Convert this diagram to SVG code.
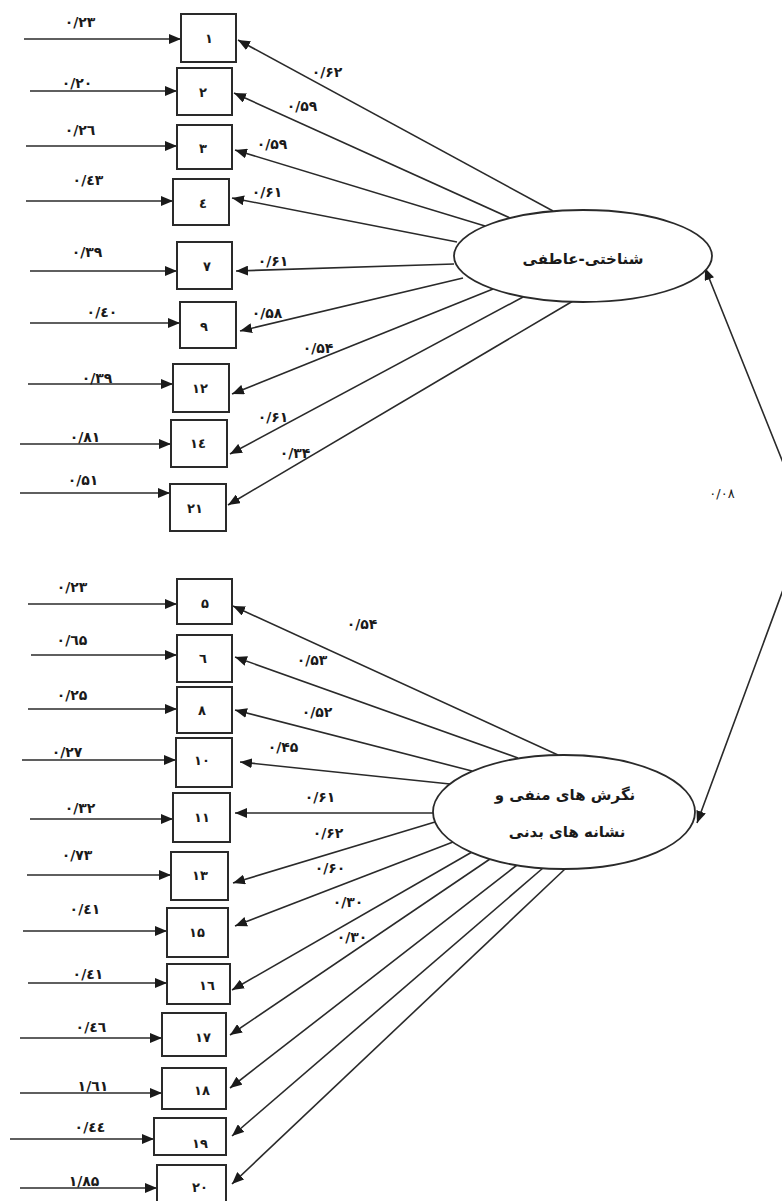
<svg xmlns="http://www.w3.org/2000/svg" width="782" height="1201" viewBox="0 0 782 1201">
<style>
.box{fill:#fff;stroke:#2a2a2a;stroke-width:2}
.lv{fill:#fff;stroke:#2a2a2a;stroke-width:1.8}
.ln{fill:none;stroke:#2a2a2a;stroke-width:1.6}
.t{font-family:"DejaVu Sans",sans-serif;font-size:14px;font-weight:bold;fill:#1a1a1a;text-anchor:middle;letter-spacing:2px}
.bt{font-family:"DejaVu Sans",sans-serif;font-size:13px;font-weight:bold;fill:#1a1a1a;text-anchor:middle}
.et{font-family:"DejaVu Sans",sans-serif;font-size:15px;font-weight:bold;fill:#1a1a1a;text-anchor:middle}
</style>
<defs>
<marker id="ah" markerUnits="userSpaceOnUse" markerWidth="12" markerHeight="10" refX="12" refY="5" orient="auto-start-reverse"><path d="M0,0 L12,5 L0,10 z" fill="#1a1a1a"/></marker>
</defs>
<rect width="782" height="1201" fill="#fff"/>
<g id="connectors">
<g class="ln" marker-end="url(#ah)">
<line x1="24" y1="39" x2="181" y2="39"/>
<line x1="30" y1="91" x2="177" y2="91"/>
<line x1="26" y1="146" x2="177" y2="146"/>
<line x1="26" y1="201" x2="173" y2="201"/>
<line x1="30" y1="271" x2="177" y2="271"/>
<line x1="30" y1="323" x2="180" y2="323"/>
<line x1="28" y1="384" x2="173" y2="384"/>
<line x1="20" y1="444" x2="171" y2="444"/>
<line x1="20" y1="493" x2="170" y2="493"/>
<line x1="28" y1="604" x2="177" y2="604"/>
<line x1="31" y1="655" x2="177" y2="655"/>
<line x1="28" y1="709" x2="177" y2="709"/>
<line x1="22" y1="760" x2="176" y2="760"/>
<line x1="30" y1="819" x2="173" y2="819"/>
<line x1="27" y1="875" x2="171" y2="875"/>
<line x1="23" y1="931" x2="167" y2="931"/>
<line x1="28" y1="983" x2="167" y2="983"/>
<line x1="20" y1="1038" x2="162" y2="1038"/>
<line x1="20" y1="1093" x2="162" y2="1093"/>
<line x1="10" y1="1139" x2="154" y2="1139"/>
<line x1="20" y1="1188" x2="157" y2="1188"/>
<line x1="553" y1="211" x2="238" y2="40"/>
<line x1="510" y1="218" x2="234" y2="93"/>
<line x1="485" y1="226" x2="235" y2="150"/>
<line x1="457" y1="242" x2="232" y2="198"/>
<line x1="454" y1="264" x2="236" y2="271"/>
<line x1="463" y1="278" x2="240" y2="331"/>
<line x1="493" y1="289" x2="232" y2="394"/>
<line x1="523" y1="297" x2="230" y2="454"/>
<line x1="573" y1="301" x2="228" y2="505"/>
<line x1="558" y1="755" x2="233" y2="606"/>
<line x1="518" y1="758" x2="235" y2="657"/>
<line x1="472" y1="771" x2="235" y2="710"/>
<line x1="450" y1="784" x2="240" y2="762"/>
<line x1="433" y1="813" x2="235" y2="813"/>
<line x1="435" y1="822" x2="233" y2="883"/>
<line x1="453" y1="842" x2="235" y2="926"/>
<line x1="472" y1="852" x2="232" y2="990"/>
<line x1="490" y1="859" x2="230" y2="1035"/>
<line x1="517" y1="865" x2="230" y2="1088"/>
<line x1="543" y1="868" x2="232" y2="1136"/>
<line x1="565" y1="869" x2="232" y2="1184"/>
</g>
<path class="ln" d="M705,268 L790,480 L790,571 L697,823" marker-start="url(#ah)" marker-end="url(#ah)"/>
<g class="t">
<text x="80" y="27">۰/۲۳</text>
<text x="77" y="88">۰/۲۰</text>
<text x="80" y="135">۰/۲٦</text>
<text x="88" y="185">۰/٤۳</text>
<text x="87" y="257">۰/۳۹</text>
<text x="102" y="317">۰/٤۰</text>
<text x="97" y="383">۰/۳۹</text>
<text x="85" y="442">۰/۸۱</text>
<text x="83" y="485">۰/۵۱</text>
<text x="327" y="77">۰/۶۲</text>
<text x="302" y="111">۰/۵۹</text>
<text x="272" y="149">۰/۵۹</text>
<text x="267" y="197">۰/۶۱</text>
<text x="273" y="266">۰/۶۱</text>
<text x="267" y="318">۰/۵۸</text>
<text x="318" y="353">۰/۵۴</text>
<text x="273" y="422">۰/۶۱</text>
<text x="295" y="458">۰/۳۴</text>
<text x="72" y="592">۰/۲۳</text>
<text x="72" y="645">۰/٦۵</text>
<text x="72" y="700">۰/۲۵</text>
<text x="67" y="757">۰/۲۷</text>
<text x="80" y="813">۰/۳۲</text>
<text x="77" y="860">۰/۷۳</text>
<text x="85" y="914">۰/٤۱</text>
<text x="88" y="979">۰/٤۱</text>
<text x="91" y="1032">۰/٤٦</text>
<text x="93" y="1091">۱/٦۱</text>
<text x="90" y="1132">۰/٤٤</text>
<text x="84" y="1186">۱/۸۵</text>
<text x="362" y="629">۰/۵۴</text>
<text x="312" y="665">۰/۵۳</text>
<text x="317" y="717">۰/۵۲</text>
<text x="283" y="752">۰/۴۵</text>
<text x="320" y="802">۰/۶۱</text>
<text x="328" y="838">۰/۶۲</text>
<text x="330" y="873">۰/۶۰</text>
<text x="348" y="907">۰/۳۰</text>
<text x="352" y="942">۰/۳۰</text>
<text x="722" y="498" style="font-weight:normal;font-size:13px">۰/۰۸</text>
</g>
</g>
<g id="n1"><rect class="box" x="181" y="14" width="55" height="48"/><text class="bt" x="209" y="43">۱</text></g>
<g id="n2"><rect class="box" x="177" y="68" width="55" height="47"/><text class="bt" x="203" y="97">۲</text></g>
<g id="n3"><rect class="box" x="177" y="125" width="55" height="44"/><text class="bt" x="203" y="153">۳</text></g>
<g id="n4"><rect class="box" x="173" y="179" width="56" height="46"/><text class="bt" x="203" y="208">٤</text></g>
<g id="n7"><rect class="box" x="177" y="242" width="55" height="47"/><text class="bt" x="207" y="271">۷</text></g>
<g id="n9"><rect class="box" x="180" y="302" width="56" height="46"/><text class="bt" x="204" y="331">۹</text></g>
<g id="n12"><rect class="box" x="173" y="364" width="56" height="48"/><text class="bt" x="200" y="393">۱۲</text></g>
<g id="n14"><rect class="box" x="171" y="420" width="56" height="47"/><text class="bt" x="198" y="448">۱٤</text></g>
<g id="n21"><rect class="box" x="170" y="484" width="56" height="47"/><text class="bt" x="195" y="513">۲۱</text></g>
<g id="n5"><rect class="box" x="177" y="579" width="55" height="45"/><text class="bt" x="205" y="608">۵</text></g>
<g id="n6"><rect class="box" x="177" y="635" width="55" height="47"/><text class="bt" x="203" y="663">٦</text></g>
<g id="n8"><rect class="box" x="177" y="687" width="55" height="46"/><text class="bt" x="202" y="715">۸</text></g>
<g id="n10"><rect class="box" x="176" y="738" width="56" height="49"/><text class="bt" x="202" y="765">۱۰</text></g>
<g id="n11"><rect class="box" x="173" y="793" width="57" height="49"/><text class="bt" x="202" y="822">۱۱</text></g>
<g id="n13"><rect class="box" x="171" y="852" width="57" height="48"/><text class="bt" x="200" y="880">۱۳</text></g>
<g id="n15"><rect class="box" x="167" y="908" width="61" height="49"/><text class="bt" x="197" y="937">۱۵</text></g>
<g id="n16"><rect class="box" x="167" y="964" width="63" height="40"/><text class="bt" x="207" y="990">١٦</text></g>
<g id="n17"><rect class="box" x="162" y="1013" width="64" height="43"/><text class="bt" x="203" y="1042">۱۷</text></g>
<g id="n18"><rect class="box" x="162" y="1068" width="64" height="41"/><text class="bt" x="202" y="1095">۱۸</text></g>
<g id="n19"><rect class="box" x="154" y="1118" width="72" height="37"/><text class="bt" x="200" y="1148">۱۹</text></g>
<g id="n20"><rect class="box" x="157" y="1165" width="69" height="40"/><text class="bt" x="200" y="1192">۲۰</text></g>
<g id="f1"><ellipse class="lv" cx="583" cy="256" rx="129" ry="46"/><text class="et" x="583" y="264">شناختی-عاطفی</text></g>
<g id="f2"><ellipse class="lv" cx="564" cy="812" rx="131" ry="57"/><text class="et" x="565" y="800">نگرش های منفی و</text><text class="et" x="567" y="837">نشانه های بدنی</text></g>
</svg>
